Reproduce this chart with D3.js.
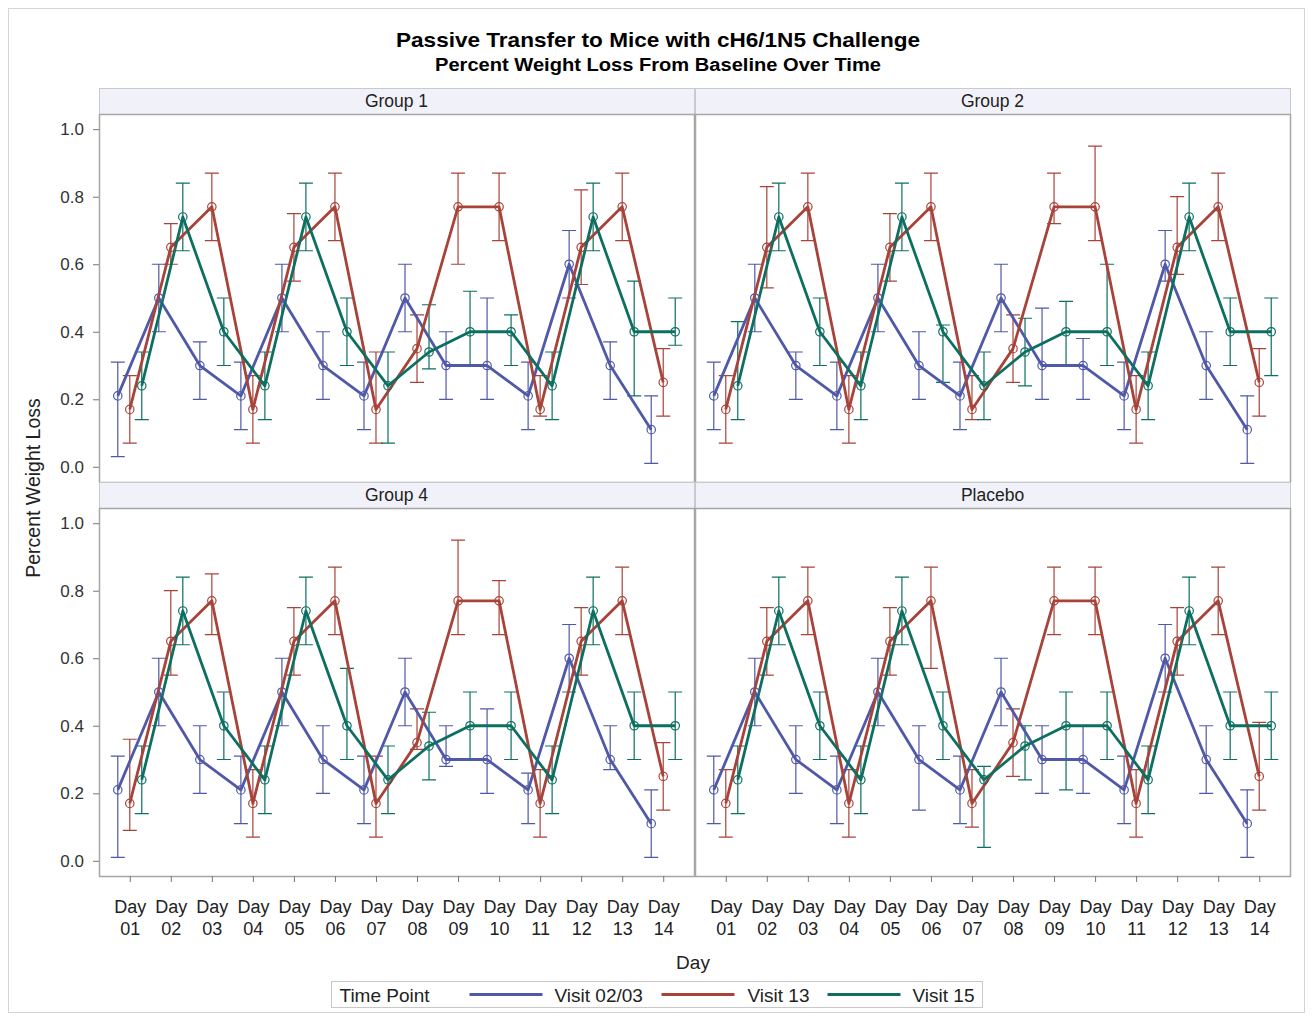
<!DOCTYPE html>
<meta charset="utf-8">
<html>
<head>
  <script src="https://d3js.org/d3.v7.min.js" charset="utf-8"></script>
</head>
<style>
* { font-family: "Liberation Sans", Arial, sans-serif; }
body { margin: 0; background: white; }
</style>
<body>
<div id="container"></div>
<script type="text/javascript">

var days = ["01","02","03","04","05","06","07","08","09","10","11","12","13","14"]
var groups = ["Group 1", "Group 2", "Group 4", "Placebo"]
var seriesNames = ["Visit 02/03", "Visit 13", "Visit 15"]
var colors = ["#5059a8", "#a8433a", "#0d6f60"]
var yTicks = [0.0, 0.2, 0.4, 0.6, 0.8, 1.0]

// means (same in every panel)
var visit0203 = [0.21,0.50,0.30,0.21,0.50,0.30,0.21,0.50,0.30,0.30,0.21,0.60,0.30,0.11]
var visit13   = [0.17,0.65,0.77,0.17,0.65,0.77,0.17,0.35,0.77,0.77,0.17,0.65,0.77,0.25]
var visit15   = [0.24,0.74,0.40,0.24,0.74,0.40,0.24,0.34,0.40,0.40,0.24,0.74,0.40,0.40]

// error limits per panel
var g1_0203_lo = [0.03,0.40,0.20,0.11,0.40,0.20,0.11,0.40,0.20,0.20,0.11,0.50,0.20,0.01]
var g1_0203_hi = [0.31,0.60,0.37,0.31,0.60,0.40,0.31,0.60,0.40,0.50,0.31,0.70,0.37,0.21]
var g1_13_lo   = [0.07,0.60,0.67,0.07,0.55,0.67,0.07,0.25,0.60,0.67,0.15,0.54,0.67,0.15]
var g1_13_hi   = [0.27,0.72,0.87,0.27,0.75,0.87,0.34,0.45,0.87,0.87,0.27,0.82,0.87,0.35]
var g1_15_lo   = [0.14,0.64,0.30,0.14,0.64,0.30,0.07,0.29,0.30,0.30,0.14,0.64,0.21,0.36]
var g1_15_hi   = [0.34,0.84,0.50,0.34,0.84,0.50,0.34,0.48,0.52,0.45,0.34,0.84,0.55,0.50]

var g2_0203_lo = [0.11,0.40,0.20,0.11,0.40,0.20,0.11,0.40,0.20,0.20,0.11,0.55,0.20,0.01]
var g2_0203_hi = [0.31,0.60,0.34,0.31,0.60,0.40,0.31,0.60,0.47,0.38,0.31,0.70,0.40,0.21]
var g2_13_lo   = [0.07,0.53,0.67,0.07,0.55,0.67,0.14,0.25,0.72,0.67,0.07,0.57,0.67,0.15]
var g2_13_hi   = [0.27,0.83,0.87,0.27,0.75,0.87,0.27,0.45,0.87,0.95,0.27,0.80,0.87,0.35]
var g2_15_lo   = [0.14,0.64,0.30,0.14,0.64,0.25,0.14,0.24,0.30,0.30,0.14,0.64,0.30,0.27]
var g2_15_hi   = [0.43,0.84,0.50,0.34,0.84,0.42,0.34,0.44,0.49,0.60,0.34,0.84,0.50,0.50]

var g4_0203_lo = [0.01,0.40,0.20,0.11,0.40,0.20,0.11,0.40,0.28,0.20,0.11,0.50,0.27,0.01]
var g4_0203_hi = [0.31,0.60,0.40,0.31,0.60,0.40,0.31,0.60,0.40,0.45,0.26,0.70,0.40,0.21]
var g4_13_lo   = [0.09,0.55,0.67,0.07,0.55,0.67,0.07,0.33,0.67,0.67,0.07,0.55,0.67,0.15]
var g4_13_hi   = [0.36,0.80,0.85,0.27,0.75,0.87,0.31,0.45,0.95,0.83,0.27,0.75,0.87,0.35]
var g4_15_lo   = [0.14,0.64,0.30,0.14,0.64,0.30,0.14,0.24,0.30,0.30,0.14,0.64,0.30,0.30]
var g4_15_hi   = [0.34,0.84,0.50,0.34,0.84,0.57,0.34,0.44,0.50,0.50,0.34,0.84,0.50,0.50]

var pl_0203_lo = [0.11,0.40,0.20,0.11,0.40,0.15,0.11,0.40,0.20,0.20,0.11,0.50,0.20,0.01]
var pl_0203_hi = [0.31,0.60,0.40,0.31,0.60,0.40,0.31,0.60,0.40,0.40,0.31,0.70,0.40,0.21]
var pl_13_lo   = [0.07,0.55,0.67,0.07,0.55,0.57,0.10,0.25,0.67,0.67,0.07,0.55,0.67,0.15]
var pl_13_hi   = [0.27,0.75,0.87,0.27,0.75,0.87,0.27,0.45,0.87,0.87,0.27,0.75,0.87,0.41]
var pl_15_lo   = [0.14,0.64,0.30,0.14,0.64,0.30,0.04,0.24,0.21,0.30,0.14,0.64,0.30,0.30]
var pl_15_hi   = [0.34,0.84,0.50,0.34,0.84,0.50,0.28,0.40,0.50,0.50,0.34,0.84,0.50,0.50]

var means = [visit0203, visit13, visit15]
var limits = [
  [[g1_0203_lo, g1_0203_hi], [g1_13_lo, g1_13_hi], [g1_15_lo, g1_15_hi]],
  [[g2_0203_lo, g2_0203_hi], [g2_13_lo, g2_13_hi], [g2_15_lo, g2_15_hi]],
  [[g4_0203_lo, g4_0203_hi], [g4_13_lo, g4_13_hi], [g4_15_lo, g4_15_hi]],
  [[pl_0203_lo, pl_0203_hi], [pl_13_lo, pl_13_hi], [pl_15_lo, pl_15_hi]]
]

var width = 1312
var height = 1020
var gridLeft = 99
var panelW = 595
var headerH = 26
var plotH = 368
var gridTop = 88
var clusterOffset = [-12, 0, 12]
var capHalf = 7
var textColor = "#222"

var svg = d3.select("#container").append("svg")
            .attr("width", width)
            .attr("height", height)

svg.append("rect")
   .attr("x", 8.5).attr("y", 8.5)
   .attr("width", 1296).attr("height", 1004)
   .attr("fill", "white").attr("stroke", "#d4d4d4")

svg.append("text")
   .attr("x", 658).attr("y", 47)
   .attr("text-anchor", "middle")
   .attr("font-size", "21px").attr("font-weight", "bold")
   .attr("textLength", 524).attr("lengthAdjust", "spacingAndGlyphs")
   .text("Passive Transfer to Mice with cH6/1N5 Challenge")

svg.append("text")
   .attr("x", 658).attr("y", 71)
   .attr("text-anchor", "middle")
   .attr("font-size", "18px").attr("font-weight", "bold")
   .attr("textLength", 446).attr("lengthAdjust", "spacingAndGlyphs")
   .text("Percent Weight Loss From Baseline Over Time")

var x = d3.scalePoint().domain(days).range([0, panelW]).padding(0.75)
var y = d3.scaleLinear().domain([-0.045, 1.045]).range([plotH, 0])

groups.forEach(function(gname, gi) {
  var col = gi % 2
  var row = Math.floor(gi / 2)
  var px = gridLeft + col * (panelW + 1)
  var py = gridTop + row * (headerH + plotH)

  // header strip
  svg.append("rect")
     .attr("x", px + 0.5).attr("y", py + 0.5)
     .attr("width", panelW).attr("height", headerH)
     .attr("fill", "#f1f1f9").attr("stroke", "#c9c9d0")
  svg.append("text")
     .attr("x", px + panelW / 2).attr("y", py + headerH / 2 + 1)
     .attr("text-anchor", "middle").attr("dominant-baseline", "middle")
     .attr("font-size", "17.5px").attr("fill", textColor)
     .text(gname)

  var g = svg.append("g").attr("transform", "translate(" + px + "," + (py + headerH) + ")")

  g.append("rect")
   .attr("x", 0.5).attr("y", 0.5)
   .attr("width", panelW).attr("height", plotH)
   .attr("fill", "white").attr("stroke", "#a6a6a6").attr("stroke-width", 1.5)

  // error bars
  seriesNames.forEach(function(s, si) {
    var lo = limits[gi][si][0]
    var hi = limits[gi][si][1]
    var bars = g.append("g").attr("stroke", colors[si]).attr("stroke-width", 1.2).attr("fill", "none")
    bars.selectAll("path")
        .data(days)
        .enter()
        .append("path")
        .attr("d", function(d, i) {
          var cx = x(d) + clusterOffset[si]
          var y1 = y(hi[i]), y0 = y(lo[i])
          return "M" + (cx - capHalf) + "," + y1 + "H" + (cx + capHalf) +
                 "M" + cx + "," + y1 + "V" + y0 +
                 "M" + (cx - capHalf) + "," + y0 + "H" + (cx + capHalf)
        })
  })

  // lines
  seriesNames.forEach(function(s, si) {
    var line = d3.line()
                 .x(function(d, i) { return x(days[i]) + clusterOffset[si] })
                 .y(function(d) { return y(d) })
    g.append("path")
     .datum(means[si])
     .attr("d", line)
     .attr("fill", "none")
     .attr("stroke", colors[si])
     .attr("stroke-width", 2.8)
     .attr("stroke-linejoin", "round")
  })

  // markers
  seriesNames.forEach(function(s, si) {
    g.selectAll(".m" + si)
     .data(means[si])
     .enter()
     .append("circle")
     .attr("class", "m" + si)
     .attr("cx", function(d, i) { return x(days[i]) + clusterOffset[si] })
     .attr("cy", function(d) { return y(d) })
     .attr("r", 4.2)
     .attr("fill", "none")
     .attr("stroke", colors[si])
     .attr("stroke-width", 1.2)
  })

  // y axis on left column
  if (col == 0) {
    var ya = g.append("g")
              .call(d3.axisLeft(y).tickValues(yTicks).tickSize(6).tickPadding(9).tickFormat(d3.format(".1f")))
    ya.select(".domain").remove()
    ya.selectAll("line").attr("stroke", "#777")
    ya.selectAll("text").attr("font-size", "17px").attr("fill", "#333")
      .style("font-family", "'Liberation Sans', Arial, sans-serif")
  }

  // x axis on bottom row
  if (row == 1) {
    var xa = g.append("g").attr("transform", "translate(0," + plotH + ")")
              .call(d3.axisBottom(x).tickSize(6).tickFormat(""))
    xa.select(".domain").remove()
    xa.selectAll("line").attr("stroke", "#777")
    xa.selectAll(".tick").append("text")
      .attr("text-anchor", "middle").attr("fill", textColor)
      .attr("font-size", "18px")
      .style("font-family", "'Liberation Sans', Arial, sans-serif")
      .selectAll("tspan")
      .data(function(d) { return ["Day", d] })
      .enter()
      .append("tspan")
      .attr("x", 0)
      .attr("y", function(d, i) { return 37 + i * 22 })
      .text(function(d) { return d })
  }
})

// axis titles
svg.append("text")
   .attr("transform", "translate(40,488) rotate(-90)")
   .attr("text-anchor", "middle")
   .attr("font-size", "19.5px").attr("fill", textColor)
   .text("Percent Weight Loss")

svg.append("text")
   .attr("x", 693).attr("y", 969)
   .attr("text-anchor", "middle")
   .attr("font-size", "19px").attr("fill", textColor)
   .text("Day")

// legend
var legend = svg.append("g").attr("transform", "translate(331.5,981.5)")
legend.append("rect")
      .attr("width", 651).attr("height", 26)
      .attr("fill", "white").attr("stroke", "#c8c8c8")
legend.append("text")
      .attr("x", 8).attr("y", 20)
      .attr("font-size", "19px").attr("fill", textColor)
      .text("Time Point")

var legendLineX = [138, 330, 496]
var legendTextX = [223, 416, 581]
seriesNames.forEach(function(s, si) {
  legend.append("line")
        .attr("x1", legendLineX[si]).attr("x2", legendLineX[si] + 73)
        .attr("y1", 13).attr("y2", 13)
        .attr("stroke", colors[si]).attr("stroke-width", 3)
  legend.append("text")
        .attr("x", legendTextX[si]).attr("y", 20)
        .attr("font-size", "19px").attr("fill", textColor)
        .text(s)
})

</script>
</body>
</html>
